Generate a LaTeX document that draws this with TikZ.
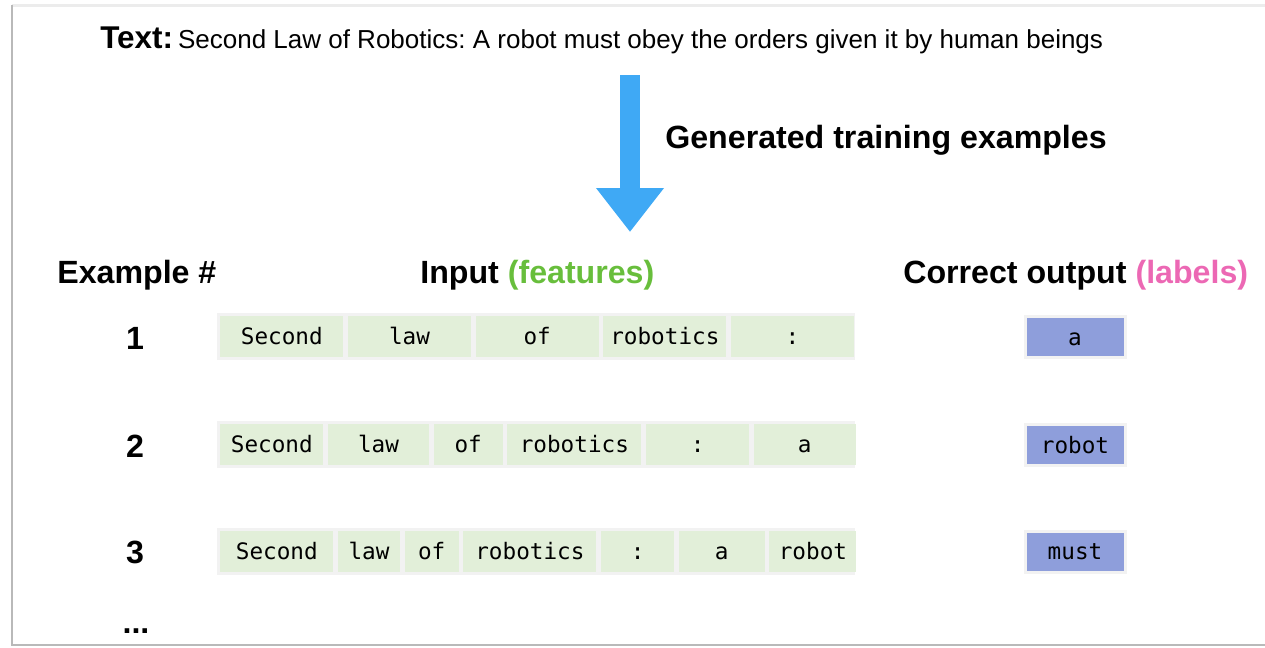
\documentclass[tikz,border=0pt]{standalone}
\usepackage{fontspec}
\setmainfont{Liberation Sans}
\setmonofont{DejaVu Sans Mono}
\usepackage{tikz}
\usetikzlibrary{positioning}
\usetikzlibrary{arrows.meta}
\frenchspacing

\definecolor{cellgreen}{RGB}{226,239,217}
\definecolor{stripgray}{RGB}{242,242,242}
\definecolor{outblue}{RGB}{142,158,219}
\definecolor{arrowblue}{RGB}{63,169,245}
\definecolor{featgreen}{RGB}{104,190,60}
\definecolor{labpink}{RGB}{236,104,180}

\tikzset{
  head/.style={anchor=base west, inner sep=0pt, font=\fontsize{18.3}{22}\selectfont\bfseries},
  num/.style={anchor=base, inner sep=0pt, font=\fontsize{18.3}{22}\selectfont\bfseries},
  strip/.style={fill=stripgray, minimum width=12.76cm, minimum height=0.94cm, inner sep=0pt},
  cell/.style={fill=cellgreen, minimum height=0.82cm, inner sep=0pt, right=0.08cm of #1,
    text height=0.96em, text depth=0.04em, font=\fontsize{12.9}{15}\selectfont\ttfamily},
  outbox/.style={fill=outblue, draw=stripgray, line width=0.06cm, minimum width=2cm,
    minimum height=0.82cm, inner sep=0pt, text height=0.96em, text depth=0.04em,
    font=\fontsize{12.9}{15}\selectfont\ttfamily},
  bigarrow/.style={arrowblue, line width=0.4cm, -{Triangle[width=1.3cm,length=0.88cm]}}
}

\begin{document}
\begin{tikzpicture}[x=0.02cm, y=-0.02cm]
\useasboundingbox (0,0) rectangle (1265,647);
% Frame
\draw[gray!15, line width=0.06cm] (12,5) -- (1265,5);
\draw[gray!55, line width=0.05cm] (12,5) -- (12,645) -- (1265,645);

% Define nodes
\node[anchor=base west, inner sep=0pt] (text) at (100,48)
  {{\fontsize{17.9}{21}\selectfont\bfseries Text:} \fontsize{14.8}{17}\selectfont Second Law of Robotics: A robot must obey the orders given it by human beings};
\coordinate (arrtop) at (630,75);
\coordinate (arrtip) at (630,232);
\node[head] (gen) at (665,148) {Generated training examples};

\node[head] (hexample) at (57,283) {Example \#};
\node[head] (hinput) at (420,283) {Input \textcolor{featgreen}{(features)}};
\node[head] (houtput) at (903,283) {Correct output \textcolor{labpink}{(labels)}};

% Example 1
\node[num] (n1) at (135,349) {1};
\node[strip] (s1) at (536,336.5) {};
\coordinate (s1w) at (217,336.5);
\node[cell=s1w, minimum width=2.46cm, xshift=-0.02cm] (a1) {Second};
\node[cell=a1, minimum width=2.46cm] (b1) {law};
\node[cell=b1, minimum width=2.46cm] (c1) {of};
\node[cell=c1, minimum width=2.46cm] (d1) {robotics};
\node[cell=d1, minimum width=2.46cm] (e1) {:};
\node[outbox] (o1) at (1075,337) {a};

% Example 2
\node[num] (n2) at (135,457) {2};
\node[strip] (s2) at (536,444.5) {};
\coordinate (s2w) at (217,444.5);
\node[cell=s2w, minimum width=2.06cm, xshift=-0.02cm] (a2) {Second};
\node[cell=a2, minimum width=2.02cm] (b2) {law};
\node[cell=b2, minimum width=1.38cm] (c2) {of};
\node[cell=c2, minimum width=2.68cm] (d2) {robotics};
\node[cell=d2, minimum width=2.06cm] (e2) {:};
\node[cell=e2, minimum width=2.04cm] (f2) {a};
\node[outbox] (o2) at (1075,445) {robot};

% Example 3
\node[num] (n3) at (135,563) {3};
\node[strip] (s3) at (536,551.5) {};
\coordinate (s3w) at (217,551.5);
\node[cell=s3w, minimum width=2.26cm, xshift=-0.02cm] (a3) {Second};
\node[cell=a3, minimum width=1.24cm] (b3) {law};
\node[cell=b3, minimum width=1.08cm] (c3) {of};
\node[cell=c3, minimum width=2.66cm] (d3) {robotics};
\node[cell=d3, minimum width=1.46cm] (e3) {:};
\node[cell=e3, minimum width=1.72cm] (f3) {a};
\node[cell=f3, minimum width=1.74cm] (g3) {robot};
\node[outbox] (o3) at (1075,551.5) {must};

\node[num] (more) at (136,633) {...};

% Edges
\draw[bigarrow] (arrtop) -- (arrtip);
\end{tikzpicture}
\end{document}
